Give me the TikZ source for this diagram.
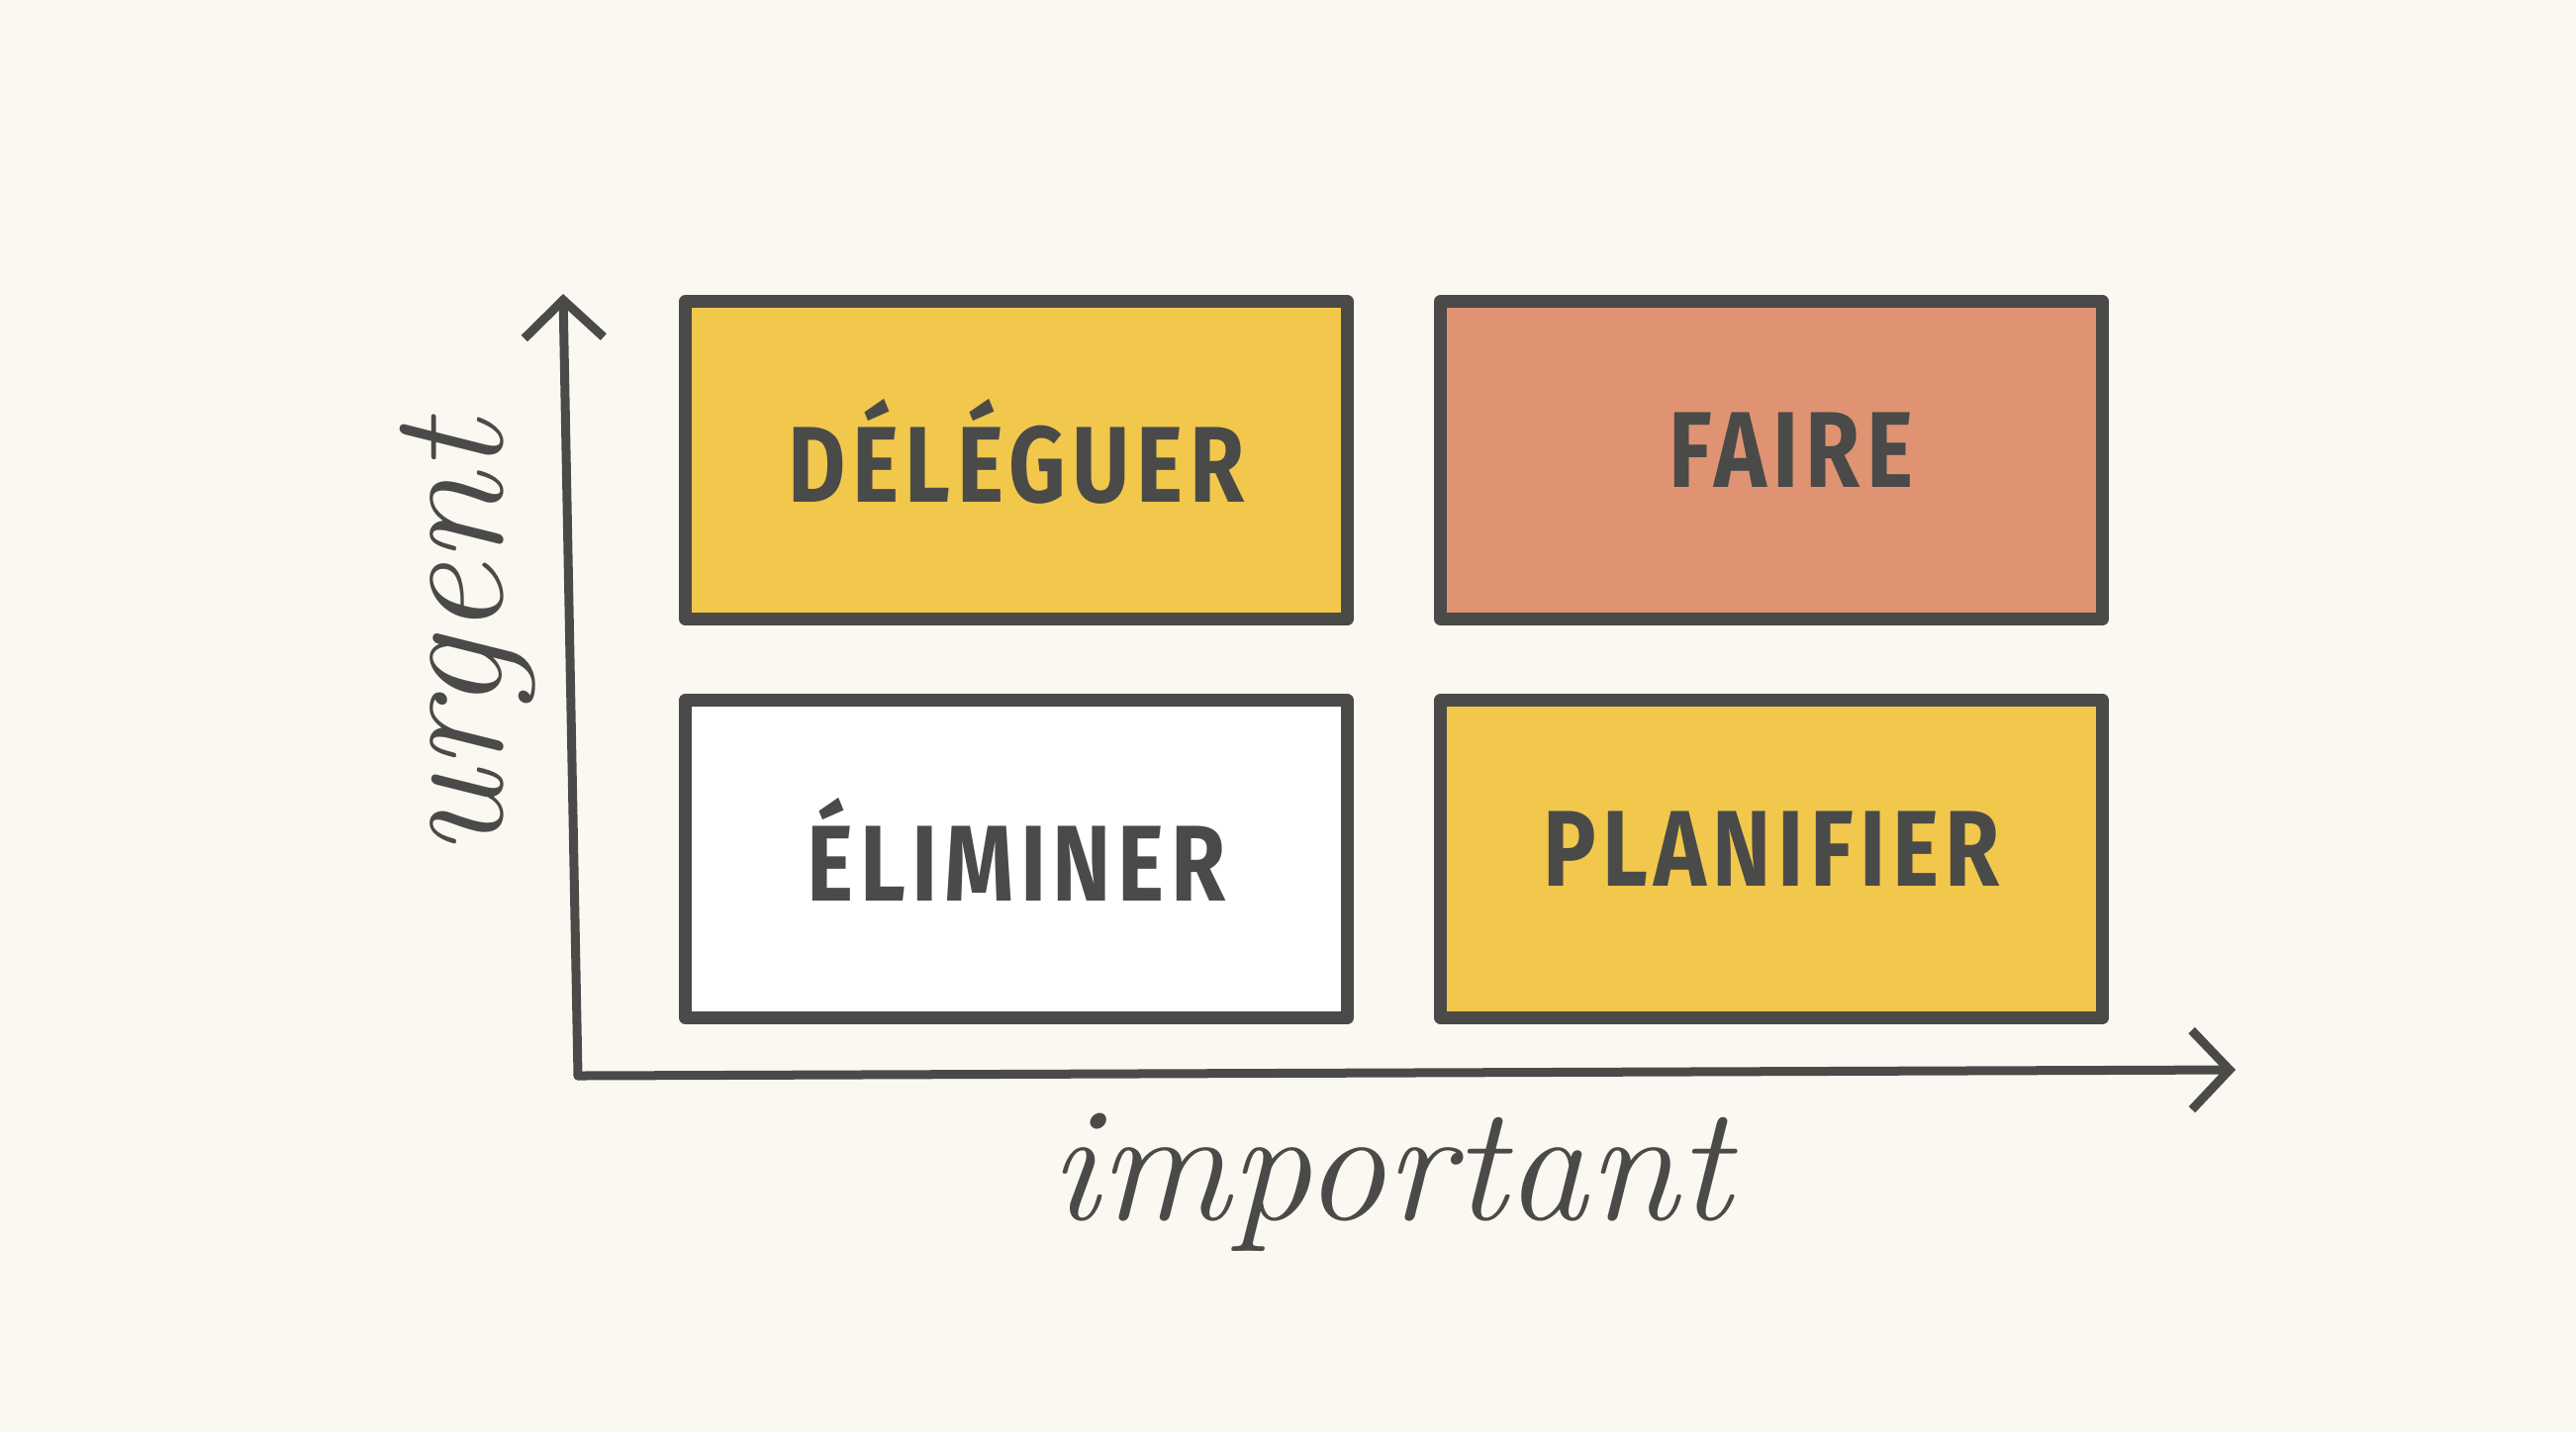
\documentclass[tikz,border=0pt]{standalone}
\usepackage{fontspec}
\setsansfont{Fira Sans}[FakeStretch=0.82, LetterSpace=6]
\usepackage{tikz}
\usetikzlibrary{arrows.meta}
\usepackage{xcolor}
\definecolor{paper}{HTML}{FAF8F1}
\definecolor{ink}{HTML}{4A4A48}
\definecolor{mustard}{HTML}{F1C84C}
\definecolor{salmon}{HTML}{E09373}

\begin{document}
\begin{tikzpicture}[x=0.01cm, y=-0.01cm,
    quadrant/.style={draw=ink, line width=0.13cm, line join=round,
        minimum width=6.69cm, minimum height=3.2cm, text=ink, text depth=0.2cm,
        font=\sffamily\bfseries\fontsize{31}{31}\selectfont},
    axis/.style={draw=ink, line width=0.09cm, line cap=round, line join=round,
        -{Straight Barb[length=0.38cm, width=0.8cm, line width=0.09cm]}},
    axislabel/.style={text=ink, font=\itshape\fontsize{47}{47}\selectfont}]
                \fill[paper] (0,0) rectangle (2603,1447);
                \useasboundingbox (0,0) rectangle (2603,1447);
                % the four quadrants
                \node[quadrant, fill=mustard] (deleguer) at (1027,465) {DÉLÉGUER};
                \node[quadrant, fill=salmon] (faire) at (1790,465) {\hspace{0.4cm}FAIRE};
                \node[quadrant, fill=white] (eliminer) at (1027,868) {ÉLIMINER\hspace{0.1cm}};
                \node[quadrant, fill=mustard] (planifier) at (1790,868) {PLANIFIER};
                % axes
                \coordinate (origin) at (584,1087);
                \coordinate (urgTip) at (569,297);
                \coordinate (impTip) at (2259,1081);
                \draw[axis] (origin) -- (urgTip);
                \draw[axis] (origin) -- (impTip);
                \node[axislabel, rotate=90] (urgent) at (473,646) {urgent};
                \node[axislabel] (important) at (1405,1195) {important};
            \end{tikzpicture}
\end{document}
